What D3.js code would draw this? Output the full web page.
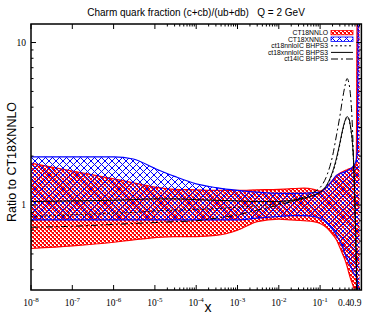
<!DOCTYPE html>
<html>
<head>
<meta charset="utf-8">
<script src="https://cdn.jsdelivr.net/npm/d3@7"></script>
<style>
body { margin: 0; background: #fff; }
text { white-space: pre; }
</style>
</head>
<body>
<svg id="chart" width="374" height="314"></svg>
<script>
// x grid shared by every series
var xs = [1e-8, 1e-7, 1e-6, 3e-6, 1e-5, 3e-5, 1e-4, 3e-4, 1e-3, 3e-3, 0.01, 0.02, 0.04, 0.07,
          0.1, 0.15, 0.2, 0.25, 0.3, 0.35, 0.4, 0.45, 0.5, 0.55, 0.6, 0.65, 0.7, 0.75, 0.8, 0.85, 0.9];

// CT18NNLO band (ratio to CT18XNNLO)
var ct18Hi = [1.81, 1.62, 1.45, 1.37, 1.29, 1.25, 1.24, 1.23, 1.23, 1.24, 1.25, 1.26, 1.27, 1.25,
              1.22, 1.30, 1.42, 1.52, 1.57, 1.60, 1.63, 1.65, 1.67, 1.68, 1.70, 1.72, 1.75, 1.80, 30, 30, 30];
var ct18Lo = [0.54, 0.56, 0.59, 0.61, 0.63, 0.64, 0.64, 0.65, 0.70, 0.79, 0.82, 0.81, 0.80, 0.79,
              0.77, 0.72, 0.66, 0.61, 0.55, 0.50, 0.46, 0.42, 0.38, 0.35, 0.33, 0.31, 0.29, 0.28, 0.01, 0.01, 0.01];

// CT18XNNLO band
var ct18xHi = [1.98, 1.98, 1.98, 1.92, 1.68, 1.50, 1.35, 1.28, 1.23, 1.20, 1.18, 1.18, 1.18, 1.19,
               1.20, 1.30, 1.42, 1.52, 1.56, 1.58, 1.60, 1.62, 1.65, 1.67, 1.70, 1.75, 1.80, 1.90, 2.2, 30, 30];
var ct18xLo = [0.81, 0.81, 0.81, 0.81, 0.81, 0.81, 0.81, 0.81, 0.81, 0.83, 0.85, 0.86, 0.86, 0.85,
               0.83, 0.77, 0.71, 0.65, 0.60, 0.55, 0.50, 0.47, 0.44, 0.42, 0.40, 0.38, 0.37, 0.36, 0.34, 0.05, 0.05];

// intrinsic charm curves
var ct18nnloIC = [0.85, 0.87, 0.89, 0.90, 0.92, 0.93, 0.94, 0.95, 0.97, 0.99, 1.02, 1.05, 1.09, 1.14,
                  1.19, 1.33, 1.57, 1.90, 2.35, 2.85, 3.25, 3.45, 3.35, 2.95, 2.45, 1.75, 0.95, 0.45, 0.18, 0.09, 0.04];
var ct18xnnloIC = [1.05, 1.06, 1.07, 1.08, 1.09, 1.09, 1.08, 1.07, 1.06, 1.05, 1.05, 1.07, 1.10, 1.15,
                   1.20, 1.35, 1.60, 1.95, 2.40, 2.90, 3.30, 3.50, 3.40, 3.00, 2.50, 1.80, 1.00, 0.50, 0.20, 0.10, 0.05];
var ct14IC = [0.73, 0.74, 0.76, 0.77, 0.78, 0.79, 0.80, 0.83, 0.87, 0.93, 1.00, 1.05, 1.12, 1.20,
              1.28, 1.55, 2.00, 2.70, 3.50, 4.50, 5.40, 6.00, 5.60, 4.60, 3.20, 1.80, 0.90, 0.40, 0.15, 0.07, 0.03];

var xMajor = [1e-8, 1e-7, 1e-6, 1e-5, 1e-4, 1e-3, 1e-2, 1e-1];
var xExtra = [0.4, 0.9];
var yMajor = [1, 10];
var yMinor = [0.4, 0.5, 0.6, 0.7, 0.8, 0.9, 2, 3, 4, 5, 6, 7, 8, 9];

var legendLabels = ["CT18NNLO", "CT18XNNLO", "ct18nnloIC BHPS3", "ct18xnnloIC BHPS3", "ct14IC BHPS3"];

var svg = d3.select("#chart");
var pLeft = 31, pRight = 361.4, pTop = 24, pBottom = 290;

var x = d3.scaleLog().domain([1e-8, 1]).range([pLeft, pRight]);
var y = d3.scaleLog().domain([0.3, 13]).range([pBottom, pTop]);

var serif = "'Liberation Serif', 'DejaVu Serif', serif";
var sans = "'Liberation Sans', Arial, sans-serif";

var defs = svg.append("defs");
defs.append("clipPath").attr("id", "plotclip")
    .append("rect").attr("x", pLeft).attr("y", pTop)
    .attr("width", pRight - pLeft).attr("height", pBottom - pTop);

// red checker pattern (2px cells)
var rp = defs.append("pattern").attr("id", "redpat")
    .attr("patternUnits", "userSpaceOnUse").attr("width", 4).attr("height", 4);
[[0, 0], [2, 2]].forEach(function (p) {
    rp.append("rect").attr("x", p[0]).attr("y", p[1]).attr("width", 2).attr("height", 2)
        .attr("fill", "#ff0000").attr("shape-rendering", "crispEdges");
});
[[1, 2], [3, 0]].forEach(function (p) {
    rp.append("rect").attr("x", p[0]).attr("y", p[1]).attr("width", 1).attr("height", 1)
        .attr("fill", "#ff6060").attr("shape-rendering", "crispEdges");
});

// blue crosshatch pattern
var bp = defs.append("pattern").attr("id", "bluepat")
    .attr("patternUnits", "userSpaceOnUse").attr("width", 7).attr("height", 7);
bp.append("path").attr("d", "M0,0L7,7M7,0L0,7M-1,6L1,8M6,-1L8,1M-1,1L1,-1M6,8L8,6")
    .attr("stroke", "#0000ff").attr("stroke-width", 1).attr("fill", "none");

function rows(lo, hi) {
    return xs.map(function (v, i) { return { x: v, lo: lo[i], hi: hi[i] }; });
}

var area = d3.area().curve(d3.curveMonotoneX)
    .x(function (d) { return x(d.x); })
    .y0(function (d) { return y(d.lo); })
    .y1(function (d) { return y(d.hi); });

function edge(key) {
    return d3.line().curve(d3.curveMonotoneX)
        .x(function (d) { return x(d.x); })
        .y(function (d) { return y(d[key]); });
}

var plot = svg.append("g").attr("clip-path", "url(#plotclip)");

function band(lo, hi, pat, col) {
    var data = rows(lo, hi);
    plot.append("path").attr("d", area(data)).attr("fill", "url(#" + pat + ")");
    plot.append("path").attr("d", edge("hi")(data)).attr("fill", "none").attr("stroke", col).attr("stroke-width", 1.2);
    plot.append("path").attr("d", edge("lo")(data)).attr("fill", "none").attr("stroke", col).attr("stroke-width", 1.2);
}

band(ct18Lo, ct18Hi, "redpat", "#ff0000");
band(ct18xLo, ct18xHi, "bluepat", "#0000ff");

var curve = d3.line().curve(d3.curveMonotoneX)
    .x(function (d) { return x(d[0]); })
    .y(function (d) { return y(d[1]); });

var lineDefs = [
    { vals: ct18nnloIC, dash: "2,2.5" },
    { vals: ct18xnnloIC, dash: null },
    { vals: ct14IC, dash: "7,3,2,3" }
];
lineDefs.forEach(function (l) {
    plot.append("path")
        .attr("d", curve(xs.map(function (v, i) { return [v, l.vals[i]]; })))
        .attr("fill", "none").attr("stroke", "#000").attr("stroke-width", 1)
        .attr("stroke-dasharray", l.dash);
});

// ticks
var tk = svg.append("g").attr("stroke", "#000").attr("stroke-width", 1);
var xMinor = [];
for (var e = -5; e <= -1; e++) {
    for (var m = 2; m <= 9; m++) xMinor.push(m * Math.pow(10, e));
}
xMajor.forEach(function (v) {
    tk.append("line").attr("x1", x(v)).attr("x2", x(v)).attr("y1", pBottom).attr("y2", pBottom - 5);
    tk.append("line").attr("x1", x(v)).attr("x2", x(v)).attr("y1", pTop).attr("y2", pTop + 5);
});
xMinor.forEach(function (v) {
    tk.append("line").attr("x1", x(v)).attr("x2", x(v)).attr("y1", pBottom).attr("y2", pBottom - 2.5);
    tk.append("line").attr("x1", x(v)).attr("x2", x(v)).attr("y1", pTop).attr("y2", pTop + 2.5);
});
yMajor.forEach(function (v) {
    tk.append("line").attr("x1", pLeft).attr("x2", pLeft + 5).attr("y1", y(v)).attr("y2", y(v));
    tk.append("line").attr("x1", pRight).attr("x2", pRight - 5).attr("y1", y(v)).attr("y2", y(v));
});
yMinor.forEach(function (v) {
    tk.append("line").attr("x1", pLeft).attr("x2", pLeft + 2.5).attr("y1", y(v)).attr("y2", y(v));
    tk.append("line").attr("x1", pRight).attr("x2", pRight - 2.5).attr("y1", y(v)).attr("y2", y(v));
});

// frame
svg.append("rect").attr("x", pLeft).attr("y", pTop)
    .attr("width", pRight - pLeft).attr("height", pBottom - pTop)
    .attr("fill", "none").attr("stroke", "#000").attr("stroke-width", 1.5);

// tick labels
var xl = svg.append("g").attr("font-family", serif).attr("font-size", 9.5).attr("fill", "#000");
xMajor.forEach(function (v) {
    var t = xl.append("text").attr("x", x(v)).attr("y", 306).attr("text-anchor", "middle");
    t.append("tspan").text("10");
    t.append("tspan").attr("dy", -4).attr("font-size", 7).text(String(Math.round(Math.log10(v))));
});
xExtra.forEach(function (v, i) {
    xl.append("text").attr("x", x(v)).attr("dx", i === 1 ? -4 : -1).attr("y", 306)
        .attr("text-anchor", "middle").text(String(v));
});
var yl = svg.append("g").attr("font-family", serif).attr("font-size", 9.5).attr("fill", "#000");
yMajor.forEach(function (v) {
    yl.append("text").attr("x", 26).attr("y", y(v) + 3.3).attr("text-anchor", "end").text(String(v));
});

// titles
svg.append("text").attr("x", 196).attr("y", 15.5).attr("text-anchor", "middle")
    .attr("font-family", sans).attr("font-size", 10).text("Charm quark fraction (c+cb)/(ub+db)   Q = 2 GeV");
svg.append("text").attr("transform", "translate(16,162) rotate(-90)").attr("text-anchor", "middle")
    .attr("font-family", sans).attr("font-size", 12.5).text("Ratio to CT18XNNLO");
svg.append("text").attr("x", 208).attr("y", 312).attr("text-anchor", "middle")
    .attr("font-family", sans).attr("font-size", 14).text("x");

// legend
var lg = svg.append("g").attr("font-family", sans).attr("font-size", 6.8);
legendLabels.forEach(function (lab, i) {
    var cy = 32.6 + i * 6.6;
    lg.append("text").attr("x", 328).attr("y", cy + 2.4).attr("text-anchor", "end").text(lab);
    if (i === 0 || i === 1) {
        lg.append("rect").attr("x", 331).attr("y", cy - 2.2).attr("width", 22).attr("height", 4.4)
            .attr("fill", i === 0 ? "url(#redpat)" : "url(#bluepat)")
            .attr("stroke", i === 0 ? "#ff0000" : "#0000ff").attr("stroke-width", 0.8);
    } else {
        lg.append("line").attr("x1", 331).attr("x2", 353).attr("y1", cy).attr("y2", cy)
            .attr("stroke", "#000").attr("stroke-width", 1)
            .attr("stroke-dasharray", lineDefs[i - 2].dash);
    }
});
</script>
</body>
</html>
